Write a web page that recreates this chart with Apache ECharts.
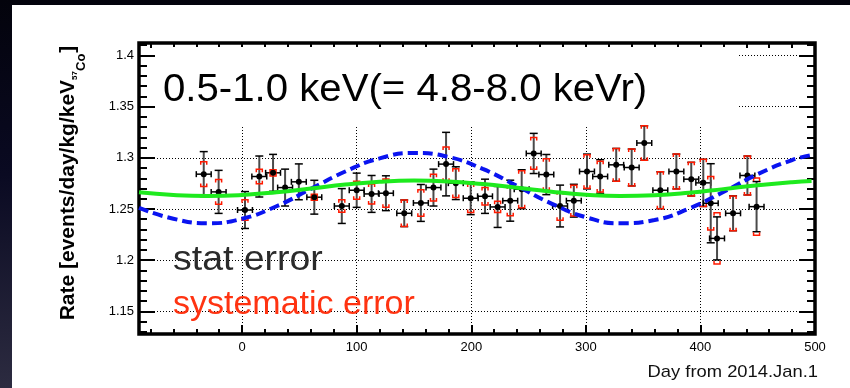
<!DOCTYPE html>
<html>
<head>
<meta charset="utf-8">
<script src="https://cdn.jsdelivr.net/npm/echarts@6/dist/echarts.min.js"></script>
<style>
  html, body { margin: 0; padding: 0; }
  body {
    width: 850px; height: 388px; position: relative; overflow: hidden;
    background: linear-gradient(180deg, #03030c 0%, #0a0a22 45%, #2c2b40 100%);
  }
  #panel { position: absolute; left: 12px; top: 5px; right: 0; bottom: 0; background: #fff; }
  #chart { position: absolute; left: 0; top: 0; width: 850px; height: 388px; }
</style>
</head>
<body>
<div id="panel"></div>
<div id="chart"></div>
<script>
const FONT = '"Liberation Sans", Arial, Helvetica, sans-serif';

// measured points (day, rate, stat error, systematic error)
const days = [-33.5, -20.5, 2.5, 15, 27, 37.5, 49.5, 63, 87, 100, 113, 125.5, 141.5, 156, 167, 178, 186.5, 199.5,
  212, 223, 234, 244, 254.5, 265.5, 277.5, 289.5, 301, 312.5, 326.5, 340, 351, 365, 379, 392, 402.5, 409, 414.5,
  428.5, 441, 449];
const rates = [1.284, 1.2667, 1.249, 1.2817, 1.2853, 1.2709, 1.2765, 1.2615, 1.2529, 1.2683, 1.2647, 1.2654,
  1.2458, 1.2559, 1.2709, 1.2938, 1.2752, 1.2605, 1.2624, 1.252, 1.2581, 1.2693, 1.3042, 1.2836, 1.2529, 1.2581,
  1.2866, 1.2817, 1.2931, 1.2905, 1.3144, 1.2683, 1.2866, 1.2791, 1.2755, 1.2556, 1.2213, 1.2458, 1.2827, 1.2523];
const statErr = [0.022, 0.021, 0.018, 0.020, 0.018, 0.018, 0.0175, 0.0165, 0.017, 0.0167, 0.018, 0.017, 0.013,
  0.018, 0.018, 0.031, 0.016, 0.016, 0.0167, 0.020, 0.020, 0.019, 0.0196, 0.0196, 0.0204, 0.016, 0.017, 0.0164,
  0.016, 0.018, 0.0168, 0.018, 0.017, 0.0164, 0.023, 0.0386, 0.021, 0.017, 0.019, 0.0245];
const sysErr = [0.012, 0.012, 0.010, 0.007, 0.003, 0, 0, 0.003, 0.006, 0.0087, 0.0098, 0.0138, 0.013, 0.013,
  0.013, 0.0167, 0.014, 0.014, 0.0085, 0.0055, 0.0147, 0.018, 0.0155, 0.0154, 0.014, 0.015, 0.0163, 0.015, 0.016,
  0.018, 0.0168, 0.018, 0.017, 0.0164, 0.023, 0.026, 0.025, 0.017, 0.019, 0.028];
const dayErr = 6.5;

// fitted curves
const curveDays = [-90, -60, -30, 0, 30, 60, 90, 120, 150, 180, 210, 240, 270, 300, 330, 360, 390, 420, 450, 480, 497];
const fitFree = [1.2510, 1.2405, 1.2361, 1.2405, 1.2527, 1.2696, 1.2866, 1.2994, 1.3046, 1.3008, 1.2891, 1.2725,
  1.2553, 1.2420, 1.2361, 1.2392, 1.2504, 1.2666, 1.2840, 1.2978, 1.3026];
const fitData = [1.2664, 1.2637, 1.2627, 1.2637, 1.2664, 1.2700, 1.2738, 1.2766, 1.2777, 1.2769, 1.2743, 1.2707,
  1.2669, 1.2640, 1.2627, 1.2634, 1.2658, 1.2694, 1.2732, 1.2762, 1.2773];

// ticks
const xMajor = [0, 100, 200, 300, 400, 500];
const xMinor = [-80, -60, -40, -20, 20, 40, 60, 80, 120, 140, 160, 180, 220, 240, 260, 280, 320, 340, 360, 380,
  420, 440, 460, 480];
const yMajor = [1.15, 1.2, 1.25, 1.3, 1.35, 1.4];
const yMinor = [1.13, 1.14, 1.16, 1.17, 1.18, 1.19, 1.21, 1.22, 1.23, 1.24, 1.26, 1.27, 1.28, 1.29, 1.31, 1.32,
  1.33, 1.34, 1.36, 1.37, 1.38, 1.39, 1.41];
const X_MIN = -90, X_MAX = 500, Y_MIN = 1.128, Y_MAX = 1.412;

const chart = echarts.init(document.getElementById('chart'), null, { renderer: 'canvas' });

const dotted = { color: '#000', width: 1, type: [1, 2] };
const tickLine = { color: '#000', width: 2 };

function xAx(pos, ticks, len, labels, split) {
  return {
    type: 'value', position: pos, min: X_MIN, max: X_MAX,
    axisLine: { show: false, onZero: false },
    axisTick: { show: true, inside: true, length: len, customValues: ticks, lineStyle: tickLine },
    axisLabel: labels
      ? { show: true, customValues: ticks, margin: 7, fontSize: 13, color: '#000', fontFamily: FONT }
      : { show: false },
    splitLine: { show: split, lineStyle: dotted }
  };
}
function yAx(pos, ticks, len, labels, split) {
  return {
    type: 'value', position: pos, min: Y_MIN, max: Y_MAX,
    axisLine: { show: false, onZero: false },
    axisTick: { show: true, inside: true, length: len, customValues: ticks, lineStyle: tickLine },
    axisLabel: labels
      ? { show: true, customValues: ticks, margin: 5, fontSize: 13, color: '#000', fontFamily: FONT }
      : { show: false },
    splitLine: { show: split, lineStyle: dotted }
  };
}

const points = days.map((d, i) => [d, rates[i], statErr[i], sysErr[i], dayErr]);

function renderPoint(params, api) {
  const d = api.value(0), r = api.value(1), st = api.value(2), sy = api.value(3), dx = api.value(4);
  const c = api.coord([d, r]);
  const cx = c[0], cy = c[1];
  const xl = api.coord([d - dx, r])[0], xr = api.coord([d + dx, r])[0];
  const yt = api.coord([d, r + st])[1], yb = api.coord([d, r - st])[1];
  const blk = { stroke: '#000', lineWidth: 1.5 };
  const kids = [
    { type: 'line', shape: { x1: cx, y1: yt, x2: cx, y2: yb }, style: { stroke: '#4a4a4a', lineWidth: 2 } },
    { type: 'line', shape: { x1: cx - 4, y1: yt, x2: cx + 4, y2: yt }, style: blk },
    { type: 'line', shape: { x1: cx - 4, y1: yb, x2: cx + 4, y2: yb }, style: blk },
    { type: 'line', shape: { x1: xl, y1: cy, x2: xr, y2: cy }, style: blk },
    { type: 'line', shape: { x1: xl, y1: cy - 3, x2: xl, y2: cy + 3 }, style: blk },
    { type: 'line', shape: { x1: xr, y1: cy - 3, x2: xr, y2: cy + 3 }, style: blk }
  ];
  if (sy > 0) {
    const st2 = api.coord([d, r + sy])[1], sb2 = api.coord([d, r - sy])[1];
    const red = { stroke: '#ff1a00', lineWidth: 1.5, fill: null };
    kids.push({ type: 'polyline', shape: { points: [[cx - 3, st2 + 3], [cx - 3, st2], [cx + 3, st2], [cx + 3, st2 + 3]] }, style: red });
    kids.push({ type: 'polyline', shape: { points: [[cx - 3, sb2 - 3], [cx - 3, sb2], [cx + 3, sb2], [cx + 3, sb2 - 3]] }, style: red });
  }
  kids.push({ type: 'circle', shape: { cx: cx, cy: cy, r: 3 }, style: { fill: '#000' } });
  return { type: 'group', children: kids };
}

chart.setOption({
  animation: false,
  textStyle: { fontFamily: FONT },
  grid: { left: 139, top: 43, width: 676, height: 291, show: true, borderColor: '#000', borderWidth: 3.5 },
  xAxis: [
    xAx('bottom', xMajor, 9, true, true),
    xAx('top', xMajor, 9, false, false),
    xAx('bottom', xMinor, 5, false, false),
    xAx('top', xMinor, 5, false, false)
  ],
  yAxis: [
    yAx('left', yMajor, 16, true, true),
    yAx('right', yMajor, 16, false, false),
    yAx('left', yMinor, 8, false, false),
    yAx('right', yMinor, 8, false, false)
  ],
  graphic: [
    { type: 'rect', z: 1, silent: true, shape: { x: 157, y: 47, width: 581, height: 79 }, style: { fill: '#fff' } },
    { type: 'text', z: 5, x: 163, y: 90, scaleX: 1.03,
      style: { text: '0.5-1.0 keV(= 4.8-8.0 keVr)', font: '39px ' + FONT, fill: '#000', verticalAlign: 'middle' } },
    { type: 'text', z: 5, x: 173, y: 260, scaleX: 1.07,
      style: { text: 'stat error', font: '35px ' + FONT, fill: '#2b2b2b', verticalAlign: 'middle' } },
    { type: 'text', z: 5, x: 173, y: 305,
      style: { text: 'systematic error', font: '34px ' + FONT, fill: '#ff3311', verticalAlign: 'middle' } },
    { type: 'text', z: 5, x: 818, y: 372, scaleX: 1.08,
      style: { text: 'Day from 2014.Jan.1', font: '17px ' + FONT, fill: '#111', align: 'right', verticalAlign: 'middle' } },
    { type: 'text', z: 5, x: 68, y: 183, rotation: Math.PI / 2,
      style: {
        text: '{m|Rate [events/day/kg/keV}{s|57}{c|Co}{m|]}',
        align: 'center', verticalAlign: 'middle', fill: '#000',
        rich: {
          m: { fontSize: 21, fontWeight: 'bold', fontFamily: FONT, fill: '#000' },
          s: { fontSize: 8, fontWeight: 'bold', fontFamily: FONT, fill: '#000', padding: [14, 0, 0, 0] },
          c: { fontSize: 13, fontWeight: 'bold', fontFamily: FONT, fill: '#000', padding: [26, 1, 0, 0] }
        }
      } }
  ],
  series: [
    { type: 'custom', name: 'data', z: 2, xAxisIndex: 0, yAxisIndex: 0,
      encode: { x: 0, y: 1 }, data: points, renderItem: renderPoint },
    { type: 'line', name: 'free fit', z: 4, xAxisIndex: 0, yAxisIndex: 0, smooth: true, showSymbol: false,
      data: curveDays.map((d, i) => [d, fitFree[i]]),
      lineStyle: { color: '#0a14f0', width: 4, type: [10, 5] } },
    { type: 'line', name: 'data fit', z: 4, xAxisIndex: 0, yAxisIndex: 0, smooth: true, showSymbol: false,
      data: curveDays.map((d, i) => [d, fitData[i]]),
      lineStyle: { color: '#1eea1e', width: 4 } }
  ]
});
</script>
</body>
</html>
